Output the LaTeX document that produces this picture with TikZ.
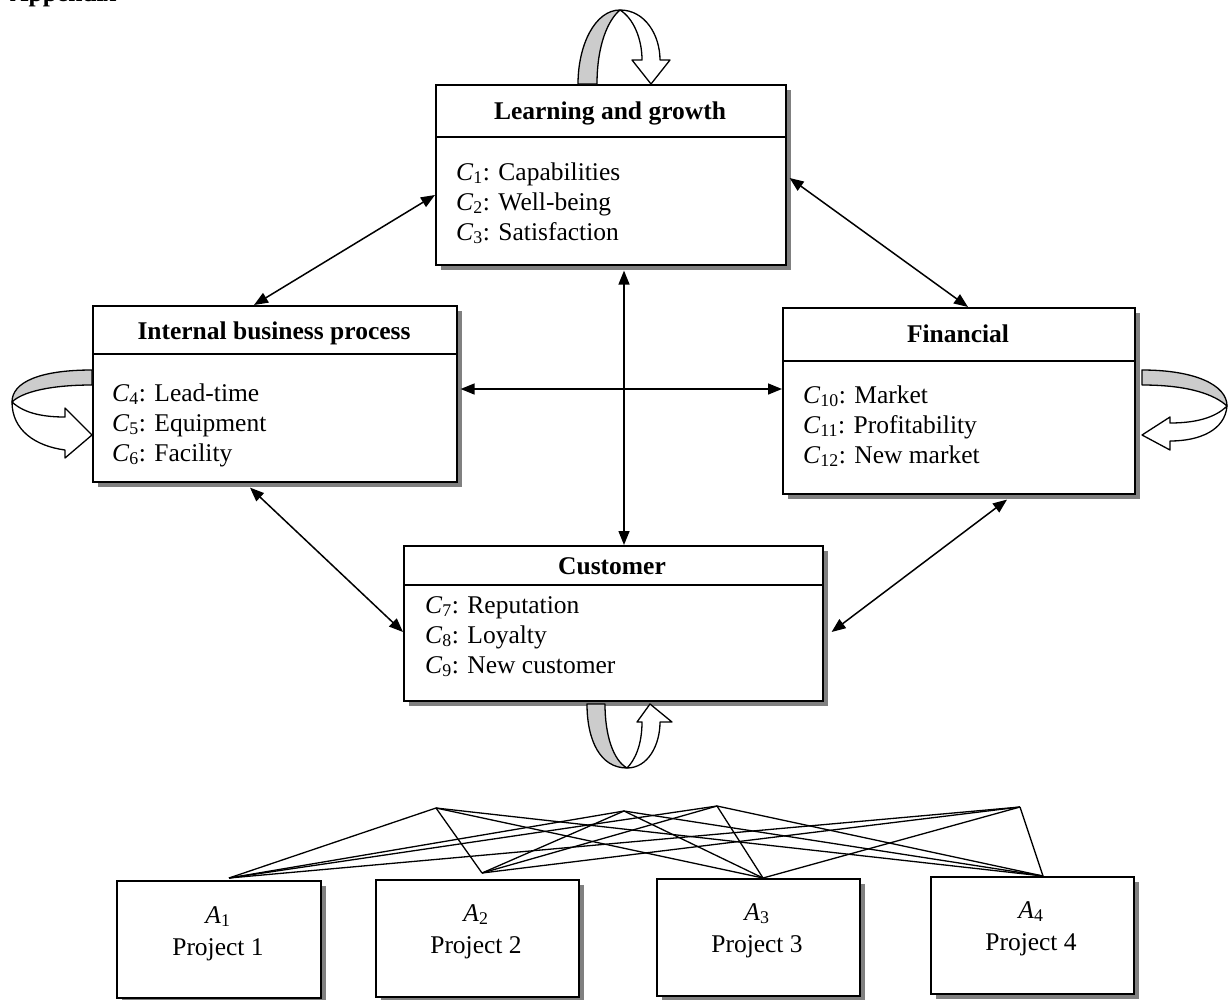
\documentclass[tikz,border=0pt]{standalone}
\usepackage{fontspec}
\setmainfont{Liberation Serif}
\usetikzlibrary{arrows.meta,calc,shadows}
\begin{document}
\begin{tikzpicture}[x=1pt,y=-1pt,
  every node/.style={font=\fontsize{25.5}{30}\selectfont, inner sep=0pt},
  box/.style={draw, line width=1.6pt, fill=white, anchor=north west,
     drop shadow={shadow xshift=5pt, shadow yshift=-5pt, opacity=1, fill=black!50}},
  ttl/.style={anchor=base, font=\fontsize{25.5}{30}\selectfont\bfseries},
  item/.style={anchor=base west},
  ctr/.style={anchor=base},
  dbl/.style={{Triangle[length=14pt,width=11pt]}-{Triangle[length=14pt,width=11pt]}, line width=1.5pt},
  link/.style={line width=1.3pt},
  back/.style={draw, line width=1.3pt, fill=black!20, line join=round},
  front/.style={draw, line width=1.3pt, fill=white, line join=round}]
\useasboundingbox (0,0) rectangle (1228,999);

\node[anchor=base west, font=\fontsize{25.5}{30}\selectfont\bfseries] (app) at (10,1) {Appendix};

% boxes
\node[box, minimum width=350pt, minimum height=180pt] (lg) at (435,84) {};
\node[box, minimum width=364pt, minimum height=176pt] (ibp) at (92,305) {};
\node[box, minimum width=352pt, minimum height=186pt] (fin) at (782,307) {};
\node[box, minimum width=419pt, minimum height=155pt] (cus) at (403,545) {};
\node[box, minimum width=204pt, minimum height=117pt] (a1) at (116,880) {};
\node[box, minimum width=203pt, minimum height=117pt] (a2) at (375,879) {};
\node[box, minimum width=203pt, minimum height=117pt] (a3) at (656,878) {};
\node[box, minimum width=203pt, minimum height=117pt] (a4) at (930,876) {};

% header lines
\draw[line width=1.6pt] ($(lg.north west)+(0,53)$) -- ($(lg.north east)+(0,53)$);
\draw[line width=1.6pt] ($(ibp.north west)+(0,49)$) -- ($(ibp.north east)+(0,49)$);
\draw[line width=1.6pt] ($(fin.north west)+(0,54)$) -- ($(fin.north east)+(0,54)$);
\draw[line width=1.6pt] ($(cus.north west)+(0,40)$) -- ($(cus.north east)+(0,40)$);

% titles and items
\node[ttl] (lgt) at (610,119) {Learning and growth};
\node[item] (c1) at (456,180) {\textit{C}\textsubscript{1}: Capabilities};
\node[item] (c2) at (456,210) {\textit{C}\textsubscript{2}: Well-being};
\node[item] (c3) at (456,240) {\textit{C}\textsubscript{3}: Satisfaction};

\node[ttl] (ibpt) at (274,339) {Internal business process};
\node[item] (c4) at (112,401) {\textit{C}\textsubscript{4}: Lead-time};
\node[item] (c5) at (112,431) {\textit{C}\textsubscript{5}: Equipment};
\node[item] (c6) at (112,461) {\textit{C}\textsubscript{6}: Facility};

\node[ttl] (fint) at (958,342) {Financial};
\node[item] (c10) at (803,403) {\textit{C}\textsubscript{10}: Market};
\node[item] (c11) at (803,433) {\textit{C}\textsubscript{11}: Profitability};
\node[item] (c12) at (803,463) {\textit{C}\textsubscript{12}: New market};

\node[ttl] (cust) at (612,574) {Customer};
\node[item] (c7) at (425,613) {\textit{C}\textsubscript{7}: Reputation};
\node[item] (c8) at (425,643) {\textit{C}\textsubscript{8}: Loyalty};
\node[item] (c9) at (425,673) {\textit{C}\textsubscript{9}: New customer};

\node[ctr] (a1s) at (218,923) {\textit{A}\textsubscript{1}};
\node[ctr] (a1p) at (218,955) {Project 1};
\node[ctr] (a2s) at (476,921) {\textit{A}\textsubscript{2}};
\node[ctr] (a2p) at (476,953) {Project 2};
\node[ctr] (a3s) at (757,920) {\textit{A}\textsubscript{3}};
\node[ctr] (a3p) at (757,952) {Project 3};
\node[ctr] (a4s) at (1031,918) {\textit{A}\textsubscript{4}};
\node[ctr] (a4p) at (1031,950) {Project 4};

% connectors
\draw[dbl] ($(lg.north west)+(0,111)$) -- ($(ibp.north west)+(162,0)$);
\draw[dbl] ($(lg.north east)+(3,94)$) -- ($(fin.north west)+(186,0)$);
\draw[dbl] ($(lg.south west)+(189,5)$) -- ($(cus.north west)+(221,0)$);
\draw[dbl] ($(ibp.north east)+(3,84)$) -- ($(fin.north west)+(0,82)$);
\draw[dbl] ($(ibp.south west)+(158,5)$) -- ($(cus.north west)+(0,87)$);
\draw[dbl] ($(fin.south west)+(225,5)$) -- ($(cus.north east)+(8,87)$);

% loops
% top (learning and growth)
\draw[back] (578,84) .. controls (578,45) and (595,10) .. (620,10)
  .. controls (608,20) and (597,45) .. (597,84) -- cycle;
\draw[front] (620,10) .. controls (645,10) and (660,35) .. (660,60) -- (670,60) -- (651,84)
  -- (632,60) -- (642,60) .. controls (642,38) and (633,18) .. (620,10) -- cycle;
% left (internal business process)
\draw[back] (92,370) .. controls (40,370) and (12,382) .. (12,402)
  .. controls (22,392) and (50,385) .. (92,385) -- cycle;
\draw[front] (12,402) .. controls (25,414) and (45,417) .. (65,417) -- (65,408) -- (92,435)
  -- (65,458) -- (65,450) .. controls (35,446) and (12,430) .. (12,402) -- cycle;
% right (financial)
\draw[back] (1142,370) .. controls (1195,370) and (1227,385) .. (1227,406)
  .. controls (1215,395) and (1190,385) .. (1142,385) -- cycle;
\draw[front] (1227,406) .. controls (1225,430) and (1200,441) .. (1170,441) -- (1170,450)
  -- (1142,435) -- (1170,417) -- (1170,423) .. controls (1195,423) and (1215,418) .. (1227,406) -- cycle;
% bottom (customer)
\draw[back] (587,704) .. controls (587,740) and (600,768) .. (627,768)
  .. controls (613,760) and (605,735) .. (605,704) -- cycle;
\draw[front] (627,768) .. controls (648,768) and (660,745) .. (660,722) -- (672,722) -- (650,704)
  -- (637,722) -- (642,722) .. controls (642,745) and (635,760) .. (627,768) -- cycle;

% bottom network
\coordinate (p1) at (436,808);
\coordinate (p2) at (624,811);
\coordinate (p3) at (717,806);
\coordinate (p4) at (1020,807);
\coordinate (q1) at ($(a1.north west)+(113,-2)$);
\coordinate (q2) at ($(a2.north west)+(107,-6)$);
\coordinate (q3) at ($(a3.north west)+(107,0)$);
\coordinate (q4) at ($(a4.north west)+(113,0)$);
\foreach \p in {p1,p2,p3,p4}{
  \foreach \q in {q1,q2,q3,q4}{
    \draw[link] (\p) -- (\q);
  }
}
\end{tikzpicture}
\end{document}
